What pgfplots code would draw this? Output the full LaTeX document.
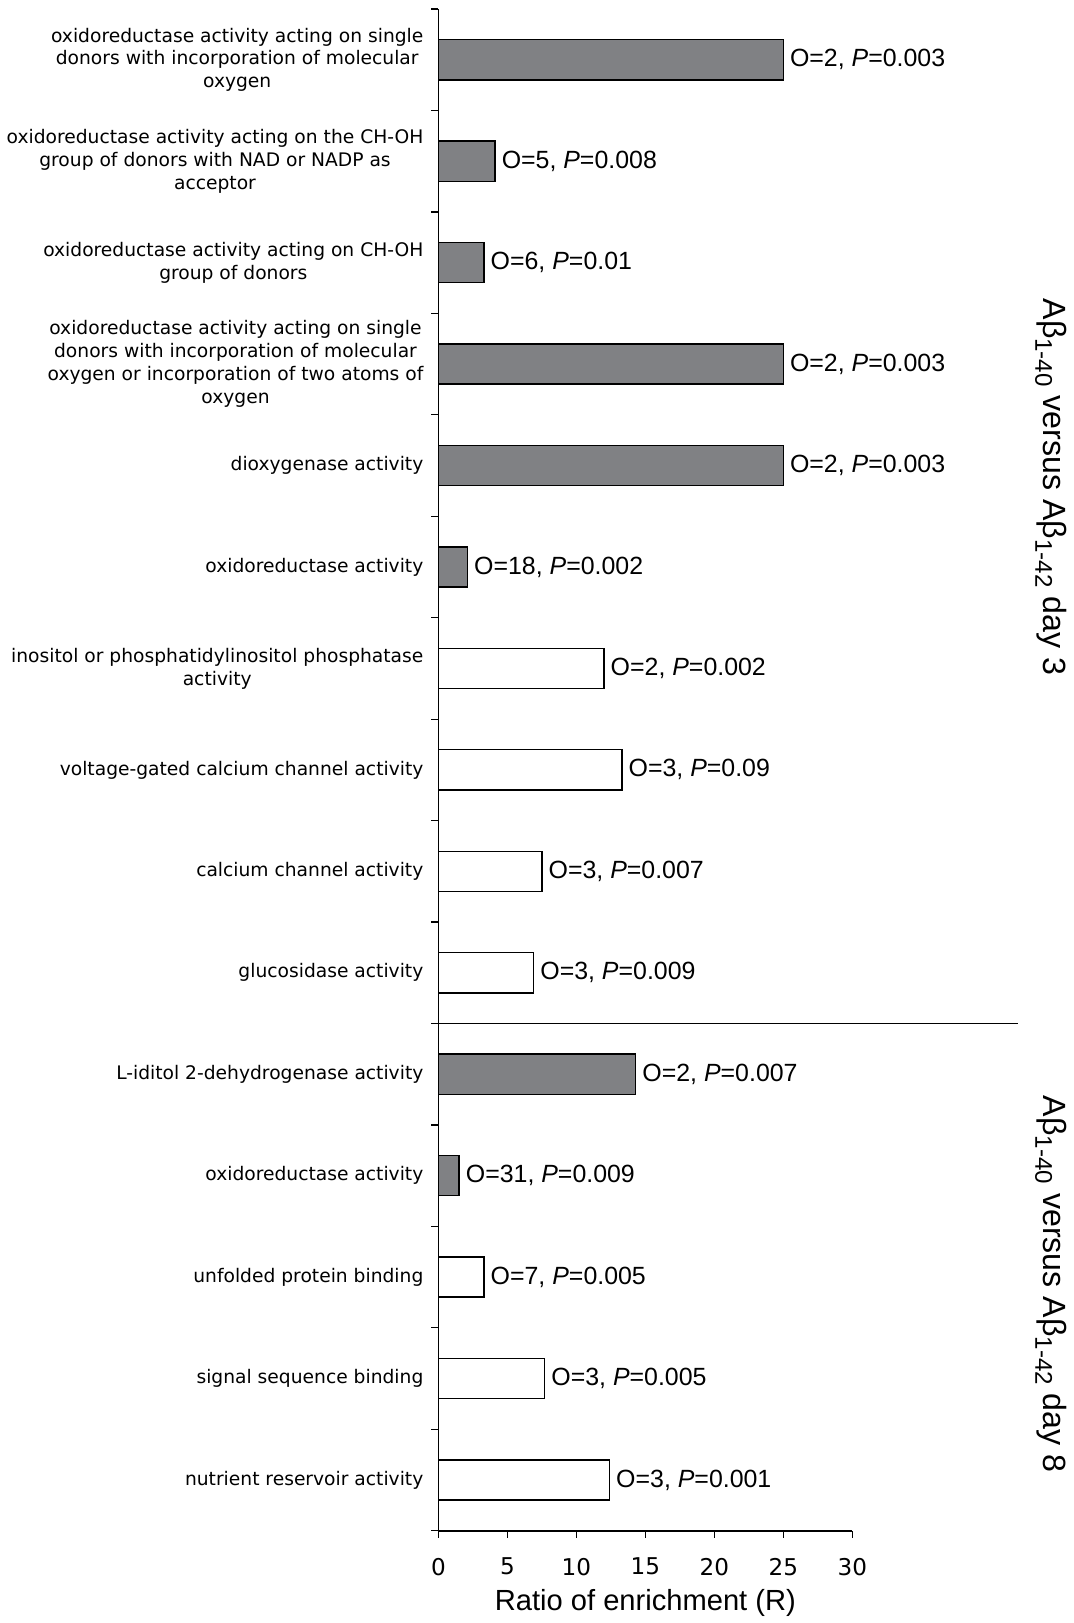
\documentclass[border=0pt]{standalone}
\usepackage{fontspec}
\setmainfont{Liberation Sans}
\newfontfamily\dv{DejaVu Sans}
\usepackage{pgfplots}
\pgfplotsset{compat=1.18}
\definecolor{barfill}{RGB}{128,129,132}
\newcommand{\sub}[1]{\raisebox{-0.25em}{\fontsize{12}{12}\selectfont #1}}

\begin{document}
\begin{tikzpicture}
\begin{axis}[
  scale only axis,
  width=206pt, height=757.5pt,
  xbar, bar width=20pt, bar shift=0pt,
  xmin=0, xmax=30, ymin=0.5, ymax=15.5,
  axis lines*=left,
  axis line style={line width=0.8pt, black},
  tick pos=left,
  xtick={0,5,...,30}, minor xtick={0,5,...,30},
  ytick={1,...,15}, minor ytick={0.5,1.5,...,15.5},
  major tick length=0pt, minor tick length=3.5pt,
  tick align=outside,
  minor tick style={line width=0.6pt, black},
  /pgf/number format/assume math mode=true,
  xticklabel style={font=\dv\fontsize{11.5}{12}\selectfont, yshift=-10pt},
  yticklabel style={font=\dv\fontsize{9.3}{11.4}\selectfont, align=center, xshift=-4pt},
  yticklabels={
    {nutrient reservoir activity},
    {signal sequence binding},
    {unfolded protein binding},
    {oxidoreductase activity},
    {L-iditol 2-dehydrogenase activity},
    {glucosidase activity},
    {calcium channel activity},
    {voltage-gated calcium channel activity},
    {inositol or phosphatidylinositol phosphatase\\activity},
    {oxidoreductase activity},
    {dioxygenase activity},
    {oxidoreductase activity acting on single\\donors with incorporation of molecular\\oxygen or incorporation of two atoms of\\oxygen},
    {oxidoreductase activity acting on CH-OH\\group of donors},
    {oxidoreductase activity acting on the CH-OH\\group of donors with NAD or NADP as\\acceptor},
    {oxidoreductase activity acting on single\\donors with incorporation of molecular\\oxygen}
  },
  xlabel={Ratio of enrichment (R)},
  xlabel style={font=\fontsize{14.5}{16}\selectfont},
  point meta=explicit symbolic,
  nodes near coords,
  nodes near coords style={font=\fontsize{12.4}{14}\selectfont, anchor=west, inner xsep=3pt},
  clip=false,
]
% oxidoreductase-related terms (grey)
\addplot[draw=black, line width=0.7pt, fill=barfill] coordinates {
  (25,15)  [O=2, {\itshape P}=0.003]
  (4.1,14) [O=5, {\itshape P}=0.008]
  (3.3,13) [O=6, {\itshape P}=0.01]
  (25,12)  [O=2, {\itshape P}=0.003]
  (25,11)  [O=2, {\itshape P}=0.003]
  (2.1,10) [O=18, {\itshape P}=0.002]
  (14.3,5) [O=2, {\itshape P}=0.007]
  (1.5,4)  [O=31, {\itshape P}=0.009]
};
% other terms (open)
\addplot[draw=black, line width=0.7pt, fill=white] coordinates {
  (12.0,9) [O=2, {\itshape P}=0.002]
  (13.3,8) [O=3, {\itshape P}=0.09]
  (7.5,7)  [O=3, {\itshape P}=0.007]
  (6.9,6)  [O=3, {\itshape P}=0.009]
  (3.3,3)  [O=7, {\itshape P}=0.005]
  (7.7,2)  [O=3, {\itshape P}=0.005]
  (12.4,1) [O=3, {\itshape P}=0.001]
};
% divider between the two comparisons
\draw[line width=0.8pt] (axis cs:0,5.5) -- (axis cs:42,5.5);
\node[rotate=-90, font=\fontsize{16}{18}\selectfont] at (axis cs:44.4,10.79)
  {Aβ\sub{1-40} versus Aβ\sub{1-42} day 3};
\node[rotate=-90, font=\fontsize{16}{18}\selectfont] at (axis cs:44.4,2.93)
  {Aβ\sub{1-40} versus Aβ\sub{1-42} day 8};
% a little room above the plot
\path (rel axis cs:0,1) ++(0pt,4.5pt);
\end{axis}
\end{tikzpicture}
\end{document}
